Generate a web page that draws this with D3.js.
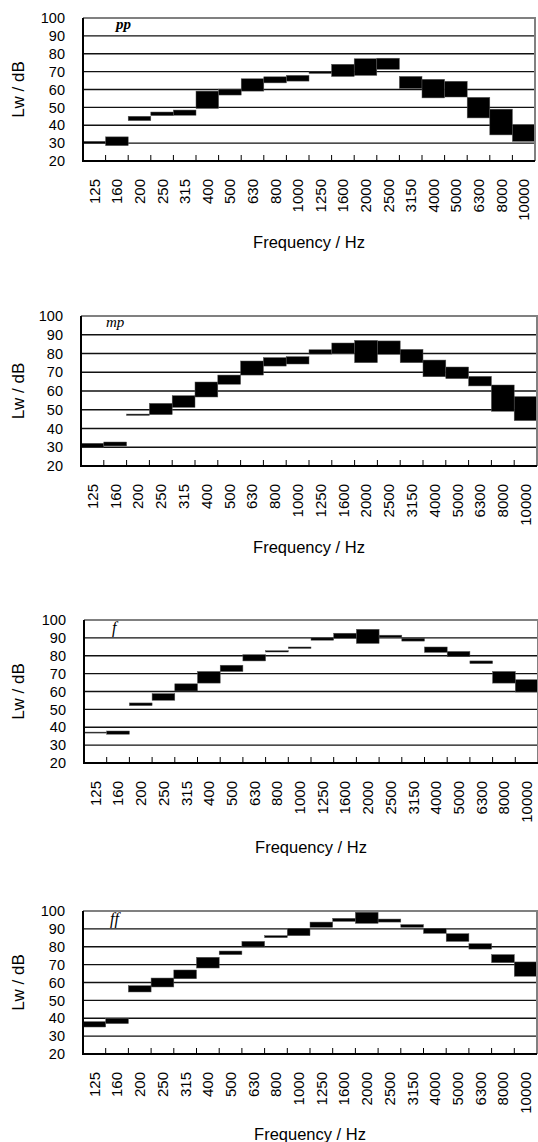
<!DOCTYPE html>
<html>
<head>
<meta charset="utf-8">
<script src="https://cdnjs.cloudflare.com/ajax/libs/d3/7.8.5/d3.min.js"></script>
<style>
  body { margin: 0; background: #fff; }
  svg { display: block; }
  text { font-family: "Liberation Sans", Arial, sans-serif; fill: #000; }
  .dyn { font-family: "Liberation Serif", "Times New Roman", serif; font-style: italic; }
</style>
</head>
<body>
<div class="visHolder"></div>
<script>
// Frequency bands (1/3 octave)
var frequencies = ['125', '160', '200', '250', '315', '400', '500', '630', '800', '1000',
  '1250', '1600', '2000', '2500', '3150', '4000', '5000', '6300', '8000', '10000'];

var yTicks = [20, 30, 40, 50, 60, 70, 80, 90, 100];

var dynamics = ['pp', 'mp', 'f', 'ff'];

// Lw range per band, low and high ends (dB)
var ppLow  = [29.8, 28.6, 42.6, 45.4, 45.6, 49.4, 56.9, 59.1, 63.7, 64.7, 69.0, 67.3, 67.9, 71.3, 60.6, 55.3, 55.8, 44.1, 34.6, 31.0];
var ppHigh = [31.0, 33.5, 45.0, 47.4, 48.5, 59.1, 60.2, 66.0, 67.1, 67.9, 69.9, 74.1, 77.2, 77.5, 67.3, 65.7, 64.6, 55.6, 49.0, 40.3];

var mpLow  = [29.8, 30.7, 47.0, 47.4, 51.3, 56.8, 63.6, 68.5, 73.3, 74.4, 79.7, 80.1, 75.1, 79.6, 75.1, 67.6, 66.6, 62.7, 49.2, 44.2];
var mpHigh = [32.1, 32.8, 47.7, 53.4, 57.5, 64.8, 68.5, 76.0, 77.8, 78.3, 82.0, 85.6, 87.0, 86.7, 82.2, 76.5, 72.8, 67.8, 63.2, 57.0];

var fLow   = [36.9, 36.1, 52.1, 55.1, 60.3, 64.7, 71.2, 77.1, 82.1, 84.1, 88.7, 89.8, 86.9, 90.2, 88.2, 81.9, 79.5, 75.6, 64.7, 59.7];
var fHigh  = [37.3, 37.9, 53.6, 58.8, 64.3, 71.2, 74.7, 80.6, 82.8, 84.9, 90.0, 92.6, 94.8, 91.5, 89.8, 84.9, 82.4, 77.1, 71.2, 66.6];

var ffLow  = [35.1, 37.0, 54.7, 57.5, 62.1, 68.1, 75.6, 79.9, 85.1, 86.2, 90.9, 94.2, 93.1, 93.8, 90.9, 87.5, 83.0, 78.7, 71.1, 63.5];
var ffHigh = [38.1, 39.8, 58.2, 62.5, 67.0, 74.1, 77.6, 83.0, 86.2, 90.3, 93.8, 95.9, 99.3, 95.5, 92.4, 90.3, 87.3, 81.7, 75.6, 71.5];

var lows = [ppLow, mpLow, fLow, ffLow];
var highs = [ppHigh, mpHigh, fHigh, ffHigh];

// Plot box of each panel on the page
var panels = [
  { left: 83, right: 535, top: 18, bottom: 161, titleY: 248 },
  { left: 81, right: 537, top: 316, bottom: 466, titleY: 553 },
  { left: 84, right: 538, top: 620, bottom: 763, titleY: 853 },
  { left: 83, right: 537, top: 911, bottom: 1054, titleY: 1140 }
];

var svg = d3.select('.visHolder').
append('svg').
attr('width', 538).
attr('height', 1142);

panels.forEach(function (p, k) {
  var xScale = d3.scaleBand().
  domain(frequencies).
  range([p.left, p.right]).
  padding(0);

  var yScale = d3.scaleLinear().
  domain([20, 100]).
  range([p.bottom, p.top]);

  var g = svg.append('g');

  // horizontal grid lines
  g.selectAll('line.grid').
  data(yTicks.slice(1, -1)).
  enter().
  append('line').
  attr('class', 'grid').
  attr('x1', p.left).
  attr('x2', p.right).
  attr('y1', function (d) { return yScale(d); }).
  attr('y2', function (d) { return yScale(d); }).
  style('stroke', '#111').
  style('stroke-width', 1.3);

  // floating range bars
  g.selectAll('rect.bar').
  data(frequencies).
  enter().
  append('rect').
  attr('class', 'bar').
  attr('x', function (d) { return xScale(d); }).
  attr('width', xScale.bandwidth()).
  attr('y', function (d, i) { return yScale(highs[k][i]); }).
  attr('height', function (d, i) { return Math.max(1, yScale(lows[k][i]) - yScale(highs[k][i])); }).
  style('fill', '#000').
  style('stroke', '#555').
  style('stroke-width', 0.5);

  // top and right frame (grey)
  g.append('path').
  attr('d', 'M' + p.left + ',' + yScale(100) + 'H' + p.right + 'V' + yScale(20)).
  style('fill', 'none').
  style('stroke', '#808080').
  style('stroke-width', 2);

  // left and bottom axes (black)
  g.append('path').
  attr('d', 'M' + p.left + ',' + yScale(100) + 'V' + yScale(20) + 'H' + p.right).
  style('fill', 'none').
  style('stroke', '#000').
  style('stroke-width', 2);

  // inward ticks between bands
  g.selectAll('line.tick').
  data(frequencies.slice(1)).
  enter().
  append('line').
  attr('class', 'tick').
  attr('x1', function (d) { return xScale(d); }).
  attr('x2', function (d) { return xScale(d); }).
  attr('y1', p.bottom).
  attr('y2', p.bottom - 6).
  style('stroke', '#000').
  style('stroke-width', 1);

  // y tick labels
  var yAxis = d3.axisLeft(yScale).
  tickValues(yTicks).
  tickSize(0).
  tickPadding(18);

  var yAxisGroup = g.append('g').
  attr('transform', 'translate(' + p.left + ',0)').
  call(yAxis);
  yAxisGroup.select('.domain').remove();
  yAxisGroup.selectAll('text').
  style('font-size', '14.5px').
  style('font-family', '"Liberation Sans", Arial, sans-serif');

  // x tick labels, rotated
  var xAxis = d3.axisBottom(xScale).tickSize(0);
  var xAxisGroup = g.append('g').
  attr('transform', 'translate(0,' + (p.bottom + 18) + ')').
  call(xAxis);
  xAxisGroup.select('.domain').remove();
  xAxisGroup.selectAll('text').
  attr('transform', 'rotate(-90)').
  attr('x', 0).
  attr('y', 0).
  attr('dy', '0.36em').
  style('text-anchor', 'end').
  style('font-size', '15px').
  style('font-family', '"Liberation Sans", Arial, sans-serif');

  // axis titles
  g.append('text').
  attr('transform', 'translate(24,' + (p.top + p.bottom) / 2 + ') rotate(-90)').
  attr('text-anchor', 'middle').
  style('font-size', '17px').
  text('Lw / dB');

  g.append('text').
  attr('x', (p.left + p.right) / 2).
  attr('y', p.titleY).
  attr('text-anchor', 'middle').
  style('font-size', '16.5px').
  text('Frequency / Hz');

  // dynamic marking
  var dynX = [116, 106, 112, 110];
  g.append('text').
  attr('class', 'dyn').
  attr('x', dynX[k]).
  attr('y', p.top + (k < 2 ? 11 : 13)).
  style('font-size', k < 2 ? '15px' : '16px').
  style('font-weight', k === 0 ? 'bold' : 'normal').
  text(dynamics[k]);
});
</script>
</body>
</html>
